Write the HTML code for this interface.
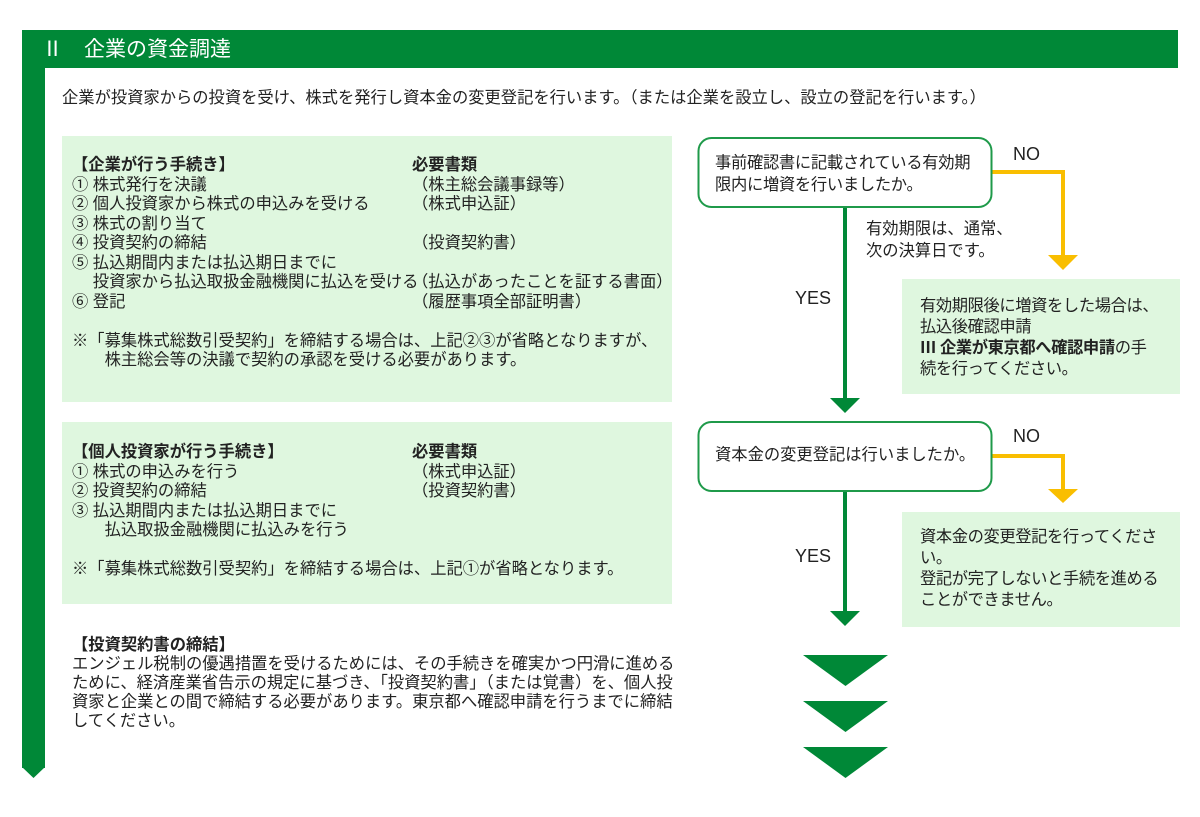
<!DOCTYPE html>
<html><head><meta charset="utf-8"><style>
body{margin:0;width:1200px;height:817px;background:#fff;position:relative;font-family:"Liberation Sans","Noto Sans CJK JP",sans-serif;color:#222;overflow:hidden}
.a{position:absolute}
.t{font-size:16.3px;line-height:19.5px;white-space:pre;letter-spacing:0}
.lg{background:#dff7df}
</style></head><body>
<div class="a" style="left:22px;top:30px;width:1156px;height:38px;background:#008837"></div>
<div class="a" style="left:42px;top:35px;color:#fff;font-size:21px;line-height:28px;white-space:pre;font-family:'Liberation Serif','Noto Sans CJK JP',sans-serif">Ⅱ　<span style="font-family:'Liberation Sans','Noto Sans CJK JP',sans-serif">企業の資金調達</span></div>
<div class="a" style="left:22px;top:68px;width:23px;height:700px;background:#008837"></div>
<svg class="a" style="left:22px;top:767px" width="23" height="12"><polygon points="0,0 23,0 11.5,11" fill="#008837"/></svg>
<div class="a t" style="left:62px;top:89px">企業が投資家からの投資を受け、株式を発行し資本金の変更登記を行います。（または企業を設立し、設立の登記を行います。）</div>

<div class="a lg" style="left:62px;top:136px;width:610px;height:266px"></div>
<div class="a t" style="left:72px;top:156px"><b>【企業が行う手続き】</b>
① 株式発行を決議
② 個人投資家から株式の申込みを受ける
③ 株式の割り当て
④ 投資契約の締結
⑤ 払込期間内または払込期日までに
　 投資家から払込取扱金融機関に払込を受ける
⑥ 登記

※「募集株式総数引受契約」を締結する場合は、上記②③が省略となりますが、
　　株主総会等の決議で契約の承認を受ける必要があります。</div>
<div class="a t" style="left:412px;top:156px"><b>必要書類</b>
（株主総会議事録等）
（株式申込証）

（投資契約書）

（払込があったことを証する書面）
（履歴事項全部証明書）</div>

<div class="a lg" style="left:62px;top:422px;width:610px;height:182px"></div>
<div class="a t" style="left:72px;top:443px"><b>【個人投資家が行う手続き】</b>
① 株式の申込みを行う
② 投資契約の締結
③ 払込期間内または払込期日までに
　　払込取扱金融機関に払込みを行う

※「募集株式総数引受契約」を締結する場合は、上記①が省略となります。</div>
<div class="a t" style="left:412px;top:443px"><b>必要書類</b>
（株式申込証）
（投資契約書）</div>

<div class="a t" style="left:72px;top:636px;line-height:19px"><b>【投資契約書の締結】</b>
エンジェル税制の優遇措置を受けるためには、その手続きを確実かつ円滑に進める
ために、経済産業省告示の規定に基づき、「投資契約書」（または覚書）を、個人投
資家と企業との間で締結する必要があります。東京都へ確認申請を行うまでに締結
してください。</div>

<svg class="a" style="left:0;top:0" width="1200" height="817">
<g fill="none" stroke-width="4">
<polyline points="992,172 1063,172 1063,258" stroke="#f9be00"/>
<polyline points="992,456 1063,456 1063,492" stroke="#f9be00"/>
<line x1="845" y1="207" x2="845" y2="400" stroke="#008837"/>
<line x1="845" y1="491" x2="845" y2="612" stroke="#008837"/>
</g>
<polygon points="1048,255 1078,255 1063,270" fill="#f9be00"/>
<polygon points="1048,489 1078,489 1063,503" fill="#f9be00"/>
<polygon points="830,398 860,398 845,413" fill="#008837"/>
<polygon points="830,611 860,611 845,626" fill="#008837"/>
<polygon points="803,655 888,655 845.5,686" fill="#008837"/>
<polygon points="803,701 888,701 845.5,732" fill="#008837"/>
<polygon points="803,747 888,747 845.5,778" fill="#008837"/>
<rect x="698.5" y="138" width="293" height="69" rx="13" fill="#fff" stroke="#1f9a4a" stroke-width="2"/>
<rect x="698.5" y="422" width="293" height="69" rx="13" fill="#fff" stroke="#1f9a4a" stroke-width="2"/>
</svg>
<div class="a t" style="left:715px;top:152px;line-height:22px;letter-spacing:-0.3px">事前確認書に記載されている有効期
限内に増資を行いましたか。</div>
<div class="a t" style="left:715px;top:446px">資本金の変更登記は行いましたか。</div>
<div class="a" style="left:1013px;top:144px;font-size:18px">NO</div>
<div class="a" style="left:1013px;top:426px;font-size:18px">NO</div>
<div class="a" style="left:795px;top:288px;font-size:18px">YES</div>
<div class="a" style="left:795px;top:546px;font-size:18px">YES</div>
<div class="a t" style="left:866px;top:218px;line-height:22px">有効期限は、通常、
次の決算日です。</div>
<div class="a lg" style="left:902px;top:279px;width:278px;height:115px"></div>
<div class="a t" style="left:920px;top:296px;line-height:21px;letter-spacing:-0.4px">有効期限後に増資をした場合は、
払込後確認申請
<b>Ⅲ 企業が東京都へ確認申請</b>の手
続を行ってください。</div>
<div class="a lg" style="left:902px;top:512px;width:278px;height:115px"></div>
<div class="a t" style="left:920px;top:527px;line-height:21px;letter-spacing:-0.4px">資本金の変更登記を行ってくださ
い。
登記が完了しないと手続を進める
ことができません。</div>
</body></html>
